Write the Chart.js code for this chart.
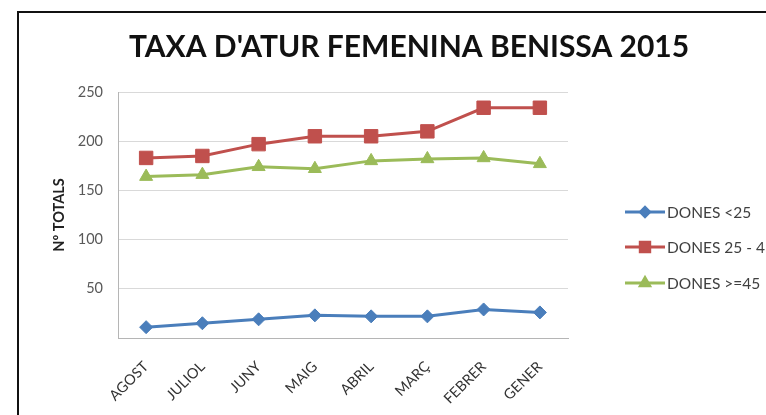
<!DOCTYPE html>
<html>
<head>
<meta charset="utf-8">
<script src="https://cdn.jsdelivr.net/npm/chart.js@4/dist/chart.umd.min.js"></script>
<style>
  html, body { margin: 0; padding: 0; background: #fff; }
  #wrap { width: 766px; height: 415px; }
</style>
</head>
<body>
<div id="wrap"><canvas id="atur" width="766" height="415"></canvas></div>
<script>
// Months as they appear on the x axis
const months = ['AGOST', 'JULIOL', 'JUNY', 'MAIG', 'ABRIL', 'MARÇ', 'FEBRER', 'GENER'];

// Values
const donesMenys25 = [11, 15, 19, 23, 22, 22, 29, 26];
const dones25a45 = [183, 185, 197, 205, 205, 210, 234, 234];
const dones45Mes = [164, 166, 174, 172, 180, 182, 183, 177];

const seriesNames = ['DONES <25', 'DONES 25 - 45', 'DONES >=45'];
const yTicks = [50, 100, 150, 200, 250];

const FONT = 'Lato, "Open Sans", sans-serif';

// title, frame and Excel-like legend (line + marker)
const decorPlugin = {
  id: 'decor',
  beforeDraw(chart) {
    const ctx = chart.ctx;
    ctx.save();
    ctx.fillStyle = '#fff';
    ctx.fillRect(0, 0, chart.width, chart.height);
    ctx.strokeStyle = '#111';
    ctx.lineWidth = 2;
    ctx.strokeRect(18, 12, 800, 450);
    ctx.restore();
  },
  afterDraw(chart) {
    const ctx = chart.ctx;
    ctx.save();
    ctx.fillStyle = '#111';
    ctx.font = 'bold 30px ' + FONT;
    ctx.textAlign = 'center';
    ctx.textBaseline = 'middle';
    ctx.fillText("TAXA D'ATUR FEMENINA BENISSA 2015", 409, 47);

    const rows = [212, 247, 283];
    chart.data.datasets.forEach((ds, i) => {
      const y = rows[i];
      ctx.strokeStyle = ds.borderColor;
      ctx.lineWidth = 3;
      ctx.beginPath();
      ctx.moveTo(625, y);
      ctx.lineTo(665, y);
      ctx.stroke();
      Chart.helpers.drawPoint(ctx, {
        pointStyle: ds.pointStyle,
        radius: ds.pointRadius * 0.7,
        rotation: 0,
        borderWidth: 1
      }, 645, y);
      ctx.fillStyle = ds.backgroundColor;
      ctx.fill();
      ctx.fillStyle = '#404040';
      ctx.font = '15.5px ' + FONT;
      ctx.textAlign = 'left';
      ctx.textBaseline = 'middle';
      ctx.fillText(ds.label, 667, y + 1);
    });
    ctx.restore();
  }
};

new Chart(document.getElementById('atur'), {
  type: 'line',
  data: {
    labels: months,
    datasets: [
      {
        label: seriesNames[0],
        data: donesMenys25,
        borderColor: '#4A7EBB',
        backgroundColor: '#4A7EBB',
        pointStyle: 'rectRot',
        pointRadius: 6.5
      },
      {
        label: seriesNames[1],
        data: dones25a45,
        borderColor: '#C0504D',
        backgroundColor: '#C0504D',
        pointStyle: 'rect',
        pointRadius: 9.5
      },
      {
        label: seriesNames[2],
        data: dones45Mes,
        borderColor: '#9BBB59',
        backgroundColor: '#9BBB59',
        pointStyle: 'triangle',
        pointRadius: 7.5
      }
    ]
  },
  options: {
    responsive: false,
    animation: false,
    datasets: {
      line: { borderWidth: 3, tension: 0, pointBorderWidth: 1 }
    },
    layout: { padding: { left: 20, top: 92, right: 198, bottom: 0 } },
    plugins: {
      legend: { display: false },
      title: { display: false },
      tooltip: { enabled: false }
    },
    scales: {
      x: {
        offset: true,
        grid: { display: false, offset: true },
        border: { color: '#b5b5b5', width: 1 },
        ticks: {
          color: '#333',
          font: { family: FONT, size: 14.5 },
          minRotation: 45,
          maxRotation: 45,
          padding: 12
        },
        afterFit(scale) { scale.height = 77; }
      },
      y: {
        min: 0,
        max: 250,
        afterBuildTicks(scale) {
          scale.ticks = [0].concat(yTicks).map(v => ({ value: v }));
        },
        grid: { color: '#d9d9d9', drawTicks: false },
        border: { color: '#b5b5b5', width: 1 },
        ticks: {
          color: '#595959',
          font: { family: FONT, size: 14.5 },
          padding: 15,
          callback: v => (v === 0 ? '' : v)
        },
        title: {
          display: true,
          text: 'Nº TOTALS',
          color: '#222',
          font: { family: FONT, size: 14.5, weight: 'bold' },
          padding: { top: 31, bottom: 0 }
        },
        afterFit(scale) { scale.width = 98; }
      }
    }
  },
  plugins: [decorPlugin]
});
</script>
</body>
</html>
